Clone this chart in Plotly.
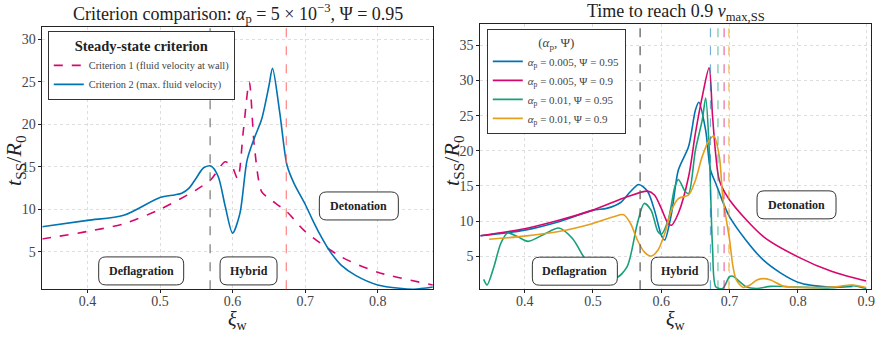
import plotly.graph_objects as go

# ---------------- data ----------------
# Left panel: alpha_p = 5e-3, Psi = 0.95
crit1_x = [0.337, 0.40, 0.45, 0.50, 0.55, 0.57, 0.59, 0.60, 0.607, 0.615, 0.623, 0.63, 0.64, 0.65, 0.675, 0.70, 0.75, 0.80, 0.876]
crit1_y = [6.5, 7.4, 8.3, 10.0, 12.3, 13.5, 15.6, 14.9, 13.6, 19.4, 25.0, 17.4, 12.1, 11.3, 9.7, 7.4, 4.4, 2.6, 1.1]

crit2_x = [0.337, 0.40, 0.45, 0.50, 0.52, 0.53, 0.54, 0.55, 0.56, 0.57, 0.58, 0.59, 0.60, 0.61, 0.62, 0.63, 0.64, 0.65, 0.655, 0.665, 0.675, 0.685, 0.70, 0.71, 0.72, 0.733, 0.75, 0.77, 0.80, 0.83, 0.85, 0.876]
crit2_y = [7.95, 8.7, 9.3, 11.4, 11.7, 11.9, 12.5, 13.7, 14.9, 15.1, 13.9, 10.3, 7.2, 9.5, 15.8, 18.4, 20.6, 24.5, 26.6, 21.4, 15.2, 13.0, 10.6, 8.8, 7.1, 5.2, 3.4, 2.2, 1.1, 0.7, 0.6, 0.85]

# Right panel: time to reach 0.9 v_max,SS
b_x = [0.335, 0.40, 0.45, 0.50, 0.52, 0.54, 0.555, 0.567, 0.58, 0.59, 0.60, 0.605, 0.615, 0.625, 0.64, 0.65, 0.655, 0.665, 0.672, 0.68, 0.70, 0.75, 0.80, 0.85, 0.88]
b_y = [7.9, 8.7, 9.9, 11.55, 11.8, 12.6, 14.2, 15.2, 14.2, 11.55, 8.0, 7.3, 11.1, 17.25, 20.6, 25.8, 26.9, 22.9, 17.3, 15.3, 10.6, 4.4, 1.3, 0.6, 0.7]

p_x = [0.335, 0.40, 0.45, 0.50, 0.55, 0.58, 0.59, 0.60, 0.61, 0.615, 0.625, 0.64, 0.65, 0.66, 0.67, 0.675, 0.68, 0.685, 0.70, 0.75, 0.80, 0.85, 0.90]
p_y = [7.9, 8.9, 10.1, 11.55, 13.45, 14.25, 13.7, 11.8, 9.65, 9.4, 11.1, 16.3, 22.5, 27.7, 31.8, 25.0, 19.2, 15.8, 13.0, 7.75, 4.9, 2.8, 1.45]

g_x = [0.34, 0.345, 0.355, 0.365, 0.375, 0.39, 0.405, 0.43, 0.45, 0.47, 0.49, 0.50, 0.52, 0.535, 0.55, 0.565, 0.575, 0.585, 0.595, 0.60, 0.61, 0.62, 0.625, 0.635, 0.64, 0.65, 0.66, 0.665, 0.67, 0.675, 0.68, 0.69, 0.70, 0.705, 0.715, 0.725, 0.74, 0.76, 0.80, 0.85, 0.88, 0.90]
g_y = [1.7, 0.9, 3.5, 6.8, 8.3, 7.75, 7.1, 8.2, 9.0, 7.5, 4.4, 3.7, 2.8, 2.0, 3.5, 9.65, 12.5, 11.55, 8.5, 8.1, 10.1, 14.9, 15.9, 14.2, 13.9, 20.1, 24.4, 27.5, 20.6, 6.3, 0.6, 0.4, 2.1, 2.15, 1.35, 0.6, 0.4, 0.7, 0.6, 0.5, 0.8, 0.4]

o_x = [0.348, 0.40, 0.45, 0.50, 0.53, 0.545, 0.555, 0.565, 0.575, 0.585, 0.595, 0.605, 0.615, 0.625, 0.64, 0.65, 0.66, 0.67, 0.677, 0.685, 0.69, 0.70, 0.705, 0.71, 0.72, 0.73, 0.74, 0.75, 0.76, 0.78, 0.80, 0.85, 0.88, 0.90]
o_y = [7.4, 7.85, 8.5, 9.65, 10.6, 10.9, 9.65, 7.3, 5.6, 5.0, 5.85, 8.2, 11.55, 13.2, 13.7, 15.8, 19.2, 21.5, 22.1, 19.2, 13.45, 7.3, 3.5, 1.6, 0.55, 0.9, 1.6, 1.8, 1.6, 0.7, 0.55, 0.6, 0.9, 0.55]

left_vlines = [0.569, 0.674]
right_vlines = [0.569, 0.672, 0.683, 0.692, 0.699]

left_ticks_x = [0.4, 0.5, 0.6, 0.7, 0.8]
right_ticks_x = [0.4, 0.5, 0.6, 0.7, 0.8, 0.9]
left_ticks_y = [5, 10, 15, 20, 25, 30]
right_ticks_y = [5, 10, 15, 20, 25, 30, 35]

region_labels = ["Deflagration", "Hybrid", "Detonation"]
left_label_x = [0.474, 0.622, 0.774]
left_label_y = [2.75, 2.75, 10.4]
right_label_x = [0.4735, 0.627, 0.798]
right_label_y = [2.86, 2.86, 12.3]
label_box_w = [85, 57, 79]

# ---------------- style ----------------
BLUE = "#0173B2"
PINK = "#D6086E"
GREEN = "#17A07A"
ORANGE = "#E69F1C"
FONT = "'Liberation Serif', 'DejaVu Serif', 'Times New Roman', serif"

XD1 = [0.0484, 0.493]
XD2 = [0.547, 0.992]

fig = go.Figure()

fig.add_trace(go.Scatter(x=crit1_x, y=crit1_y, mode="lines", line=dict(color=PINK, width=1.6, dash="dash", shape="spline", smoothing=0.8),
                         name="Criterion 1 (fluid velocity at wall)", xaxis="x", yaxis="y", legend="legend"))
fig.add_trace(go.Scatter(x=crit2_x, y=crit2_y, mode="lines", line=dict(color=BLUE, width=1.6, shape="spline", smoothing=0.8),
                         name="Criterion 2 (max. fluid velocity)", xaxis="x", yaxis="y", legend="legend"))

right_series = [
    (b_x, b_y, BLUE, "<i>α</i><sub>p</sub> = 0.005, Ψ = 0.95"),
    (p_x, p_y, PINK, "<i>α</i><sub>p</sub> = 0.005, Ψ = 0.9"),
    (g_x, g_y, GREEN, "<i>α</i><sub>p</sub> = 0.01, Ψ = 0.95"),
    (o_x, o_y, ORANGE, "<i>α</i><sub>p</sub> = 0.01, Ψ = 0.9"),
]
for xs, ys, c, nm in right_series:
    fig.add_trace(go.Scatter(x=xs, y=ys, mode="lines", line=dict(color=c, width=1.6, shape="spline", smoothing=0.8),
                             name=nm, xaxis="x2", yaxis="y2", legend="legend2"))

shapes = []
left_vcols = ["#777777", "rgba(250,110,110,0.85)"]
for xv, c in zip(left_vlines, left_vcols):
    shapes.append(dict(type="line", xref="x", yref="y domain", x0=xv, x1=xv, y0=0, y1=1,
                       line=dict(color=c, width=1.2, dash="dash"), layer="above"))
right_vcols = ["#555555", "rgba(1,115,178,0.55)", "rgba(23,160,122,0.6)", "rgba(214,8,110,0.6)", "rgba(230,159,28,0.7)"]
for xv, c in zip(right_vlines, right_vcols):
    shapes.append(dict(type="line", xref="x2", yref="y2 domain", x0=xv, x1=xv, y0=0, y1=1,
                       line=dict(color=c, width=1.2, dash="dash"), layer="above"))


def rounded_path(w, h, r):
    x0, x1, y0, y1 = -w / 2, w / 2, -h / 2, h / 2
    return (f"M {x0+r},{y0} L {x1-r},{y0} Q {x1},{y0} {x1},{y0+r} L {x1},{y1-r} Q {x1},{y1} {x1-r},{y1} "
            f"L {x0+r},{y1} Q {x0},{y1} {x0},{y1-r} L {x0},{y0+r} Q {x0},{y0} {x0+r},{y0} Z")


annotations = []
for xr, yr, lx, ly in [("x", "y", left_label_x, left_label_y), ("x2", "y2", right_label_x, right_label_y)]:
    for txt, xv, yv, w in zip(region_labels, lx, ly, label_box_w):
        shapes.append(dict(type="path", xref=xr, yref=yr, xsizemode="pixel", ysizemode="pixel",
                           xanchor=xv, yanchor=yv, path=rounded_path(w, 28, 7),
                           line=dict(color="#333333", width=1), fillcolor="white", layer="above"))
        annotations.append(dict(x=xv, y=yv, xref=xr, yref=yr, text=f"<b>{txt}</b>", showarrow=False,
                                xanchor="center", yanchor="middle",
                                font=dict(family=FONT, size=12, color="#222222")))

annotations.append(dict(x=sum(XD1) / 2, y=1 - 14 / 357, xref="paper", yref="paper", showarrow=False,
                        text="Criterion comparison: <i>α</i><sub>p</sub> = 5 × 10<sup>−3</sup>, Ψ = 0.95",
                        font=dict(family=FONT, size=18, color="#222222"), xanchor="center", yanchor="middle"))
annotations.append(dict(x=sum(XD2) / 2, y=1 - 13 / 357, xref="paper", yref="paper", showarrow=False,
                        text="Time to reach 0.9 <i>v</i><sub>max,SS</sub>",
                        font=dict(family=FONT, size=18, color="#222222"), xanchor="center", yanchor="middle"))
# axis titles
for xd in (XD1, XD2):
    annotations.append(dict(x=sum(xd) / 2, y=1 - 320 / 357, xref="paper", yref="paper", showarrow=False,
                            text="<i>ξ</i><sub>w</sub>", xanchor="center", yanchor="middle",
                            font=dict(family=FONT, size=20, color="#222222")))
for xp in (15 / 882, 455 / 882):
    annotations.append(dict(x=xp, y=1 - 160 / 357, xref="paper", yref="paper", showarrow=False, textangle=-90,
                            text="<i>t</i><sub>SS</sub>/<i>R</i><sub>0</sub>", xanchor="center", yanchor="middle",
                            font=dict(family=FONT, size=22, color="#222222")))

axis_common = dict(showline=True, linecolor="#222222", linewidth=1, mirror=True, ticks="outside", ticklen=3,
                   tickcolor="#222222", showgrid=True, gridcolor="#dddddd", griddash="dot", gridwidth=1,
                   zeroline=False, tickfont=dict(family=FONT, size=14, color="#444444"))

fig.update_layout(
    width=882, height=357, margin=dict(l=0, r=0, t=0, b=0),
    paper_bgcolor="white", plot_bgcolor="white", font=dict(family=FONT),
    xaxis=dict(domain=XD1, range=[0.338, 0.876], tickvals=left_ticks_x, anchor="y", ticklabelstandoff=-4, **axis_common),
    yaxis=dict(domain=[0.19, 0.925], range=[0.6, 31.5], tickvals=left_ticks_y, anchor="x", **axis_common),
    xaxis2=dict(domain=XD2, range=[0.335, 0.907], tickvals=right_ticks_x, anchor="y2", ticklabelstandoff=-4, **axis_common),
    yaxis2=dict(domain=[0.19, 0.932], range=[0.3, 38], tickvals=right_ticks_y, anchor="x2", **axis_common),
    legend=dict(x=48 / 882, y=1 - 31 / 357, xanchor="left", yanchor="top", bgcolor="white",
                bordercolor="#333333", borderwidth=1, font=dict(family=FONT, size=10.3, color="#444444"),
                title=dict(text="<b>Steady-state criterion</b>", side="top center",
                           font=dict(family=FONT, size=14.5, color="#222222")),
                itemwidth=30, tracegroupgap=0),
    legend2=dict(x=489 / 882, y=1 - 29 / 357, xanchor="left", yanchor="top", bgcolor="white",
                 bordercolor="#333333", borderwidth=1, font=dict(family=FONT, size=11, color="#444444"),
                 title=dict(text="(<i>α</i><sub>p</sub>, Ψ)", side="top center",
                            font=dict(family=FONT, size=13, color="#444444")),
                 itemwidth=30, tracegroupgap=0),
    shapes=shapes, annotations=annotations, showlegend=True,
)

fig.write_html("out.html")
